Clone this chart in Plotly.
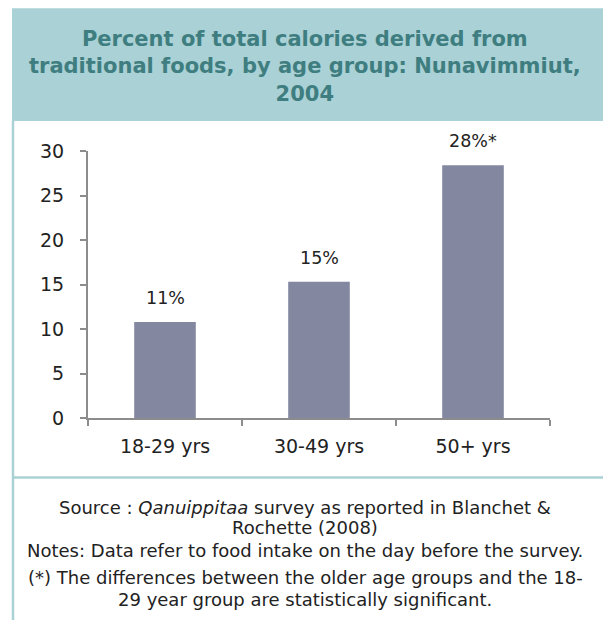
import plotly.graph_objects as go

categories = ["18-29 yrs", "30-49 yrs", "50+ yrs"]
values = [10.8, 15.3, 28.4]
value_labels = ["11%", "15%", "28%*"]
y_ticks = [0, 5, 10, 15, 20, 25, 30]

title_lines = "Percent of total calories derived from<br>traditional foods, by age group: Nunavimmiut,<br>2004"
footer_lines = [
    "Source : <i>Qanuippitaa</i> survey as reported in Blanchet &",
    "Rochette (2008)",
    "Notes: Data refer to food intake on the day before the survey.",
    "(*) The differences between the older age groups and the 18-",
    "29 year group are statistically significant.",
]
footer_y_px = [508, 528, 551, 578, 600]

W, H = 603, 620
PL, PR, PT, PB = 88, 550, 151, 418.5
FONT = "'DejaVu Sans', Verdana, sans-serif"
TEAL_BG = "#AAD1D5"
TEAL_TXT = "#3F7E80"
BAR = "#8487A0"

fig = go.Figure()
fig.add_trace(go.Bar(
    x=categories, y=values, width=0.4,
    marker=dict(color=BAR, line=dict(width=0)),
    hoverinfo="skip",
))

for c, v, t in zip(categories, values, value_labels):
    fig.add_annotation(x=c, y=v, text=t, showarrow=False, yanchor="bottom",
                       yshift=12, font=dict(family=FONT, size=17.5, color="#222222"))

def px_x(p):
    return (p - PL) / (PR - PL)

def px_y(p):
    return (PB - p) / (PB - PT)

shapes = [
    dict(type="rect", xref="paper", yref="paper", x0=px_x(12), x1=px_x(604), y0=px_y(121), y1=px_y(8),
         fillcolor=TEAL_BG, line=dict(width=0), layer="below"),
    dict(type="line", xref="paper", yref="paper", x0=px_x(13), x1=px_x(13), y0=px_y(121), y1=px_y(621),
         line=dict(color=TEAL_BG, width=2.5)),
    dict(type="line", xref="paper", yref="paper", x0=px_x(13), x1=px_x(604), y0=px_y(478), y1=px_y(478),
         line=dict(color=TEAL_BG, width=2.5)),
]

fig.add_annotation(xref="paper", yref="paper", x=px_x(305), y=px_y(66), text=title_lines,
                   showarrow=False, xanchor="center", yanchor="middle", align="center",
                   font=dict(family=FONT, size=21, color=TEAL_TXT, weight="bold"))

for line, yp in zip(footer_lines, footer_y_px):
    fig.add_annotation(xref="paper", yref="paper", x=px_x(305), y=px_y(yp), text=line,
                       showarrow=False, xanchor="center", yanchor="middle",
                       font=dict(family=FONT, size=18, color="#222222"))

fig.update_layout(
    width=W, height=H,
    margin=dict(l=PL, r=W - PR, t=PT, b=H - PB, pad=0),
    paper_bgcolor="white", plot_bgcolor="white",
    shapes=shapes, showlegend=False, bargap=0.6,
    font=dict(family=FONT, size=17, color="#222222"),
)
fig.update_xaxes(
    showline=True, linecolor="#8C8C8C", linewidth=2,
    ticks="outside", tickson="boundaries", ticklen=6, tickcolor="#8C8C8C", tickwidth=2,
    tickfont=dict(family=FONT, size=19, color="#222222"), showgrid=False,
    ticklabelstandoff=10,
)
fig.update_yaxes(
    range=[0, 30], tickvals=y_ticks, showline=True, linecolor="#8C8C8C", linewidth=2,
    ticks="outside", ticklen=6, tickcolor="#8C8C8C", tickwidth=2, showgrid=False, zeroline=False,
    tickfont=dict(family=FONT, size=19, color="#222222"), ticklabelstandoff=12,
)

fig.write_html("out.html")
